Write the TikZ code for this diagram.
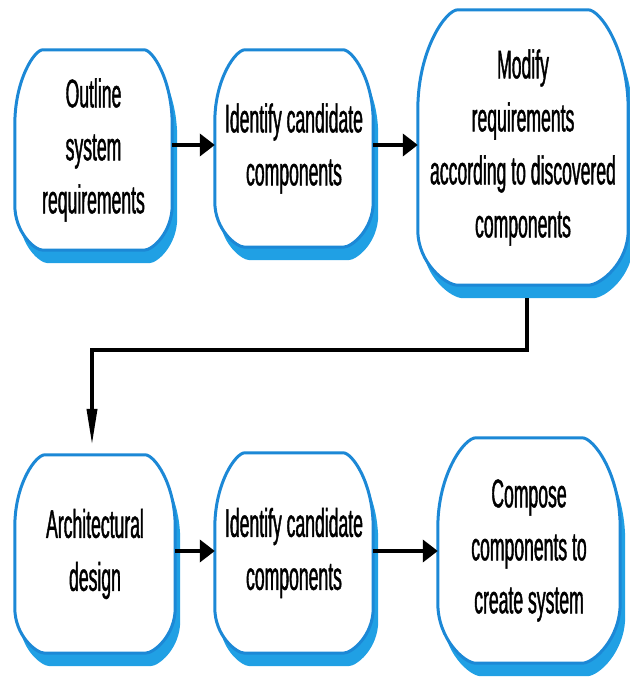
\documentclass[tikz,border=0pt]{standalone}
\usepackage{fontspec}
\newfontfamily\boxfont{Liberation Sans}[FakeStretch=0.44,FakeBold=1]
\usetikzlibrary{arrows.meta,backgrounds,calc}
\definecolor{borderblue}{RGB}{28,136,214}
\definecolor{shadowblue}{RGB}{32,160,228}
\newcommand\bubblepath[4]{([xshift=#2]#1.north west) -- ([xshift=-#2]#1.north east)
  .. controls +(0.3*#2,0) and +(0,0.6*#3) .. ([yshift=-#3]#1.north east)
  -- ([yshift=#4]#1.south east)
  .. controls +(0,-0.6*#4) and +(0.3*#2,0) .. ([xshift=-#2]#1.south east)
  -- ([xshift=#2]#1.south west)
  .. controls +(-0.3*#2,0) and +(0,-0.6*#4) .. ([yshift=#4]#1.south west)
  -- ([yshift=-#3]#1.north west)
  .. controls +(0,0.6*#3) and +(-0.3*#2,0) .. ([xshift=#2]#1.north west) -- cycle}
\newcommand\drawbubble[4]{%
  \fill[shadowblue, transform canvas={shift={(5pt,-13pt)}}] \bubblepath{#1}{#2}{#3}{#4};
  \filldraw[fill=white, draw=borderblue, line width=3pt] \bubblepath{#1}{#2}{#3}{#4};
}
\tikzset{
  bubble/.style={rectangle, inner sep=0pt, align=center, text=black,
    font=\boxfont\fontsize{40pt}{53pt}\selectfont},
  harrow/.style={line width=4pt, -{Triangle[length=15pt,width=22pt]}},
  varrow/.style={line width=3.5pt, -{Triangle[length=36pt,width=10pt]}}
}
\begin{document}
\begin{tikzpicture}[x=1pt,y=1pt]
\useasboundingbox (0,0) rectangle (629,684);
\node[bubble, minimum width=157pt, minimum height=200pt] (n1) at (93.5,534) {Outline\\system\\requirements};
\node[bubble, minimum width=158pt, minimum height=197pt] (n2) at (294,535.5) {Identify candidate\\components};
\node[bubble, minimum width=210pt, minimum height=275pt] (n3) at (523,536.5) {Modify\\requirements\\according to discovered\\components};
\node[bubble, minimum width=160pt, minimum height=198pt] (n4) at (95,130) {Architectural\\design};
\node[bubble, minimum width=158pt, minimum height=200pt] (n5) at (294,131) {Identify candidate\\components};
\node[bubble, minimum width=182pt, minimum height=225pt] (n6) at (529,133.5) {Compose\\components to\\create system};
\begin{scope}[on background layer]
  \drawbubble{n1}{28pt}{75pt}{45pt}
  \drawbubble{n2}{30pt}{72pt}{45pt}
  \drawbubble{n3}{40pt}{100pt}{55pt}
  \drawbubble{n4}{30pt}{72pt}{45pt}
  \drawbubble{n5}{30pt}{75pt}{45pt}
  \drawbubble{n6}{38pt}{90pt}{60pt}
\end{scope}
\coordinate (r1) at (0,539);
\coordinate (r2) at (0,133);
\draw[harrow] (n1.east |- r1) -- (n2.west |- r1);
\draw[harrow] (n2.east |- r1) -- (n3.west |- r1);
\draw[harrow] (n4.east |- r2) -- (n5.west |- r2);
\draw[harrow] (n5.east |- r2) -- (n6.west |- r2);
\coordinate (e1) at (527,334);
\coordinate (e2) at (92,334);
\coordinate (e3) at (92,239);
\draw[varrow] ([yshift=-13pt]n3.south -| e1) -- (e1) -- (e2) -- (e3);
\end{tikzpicture}
\end{document}
